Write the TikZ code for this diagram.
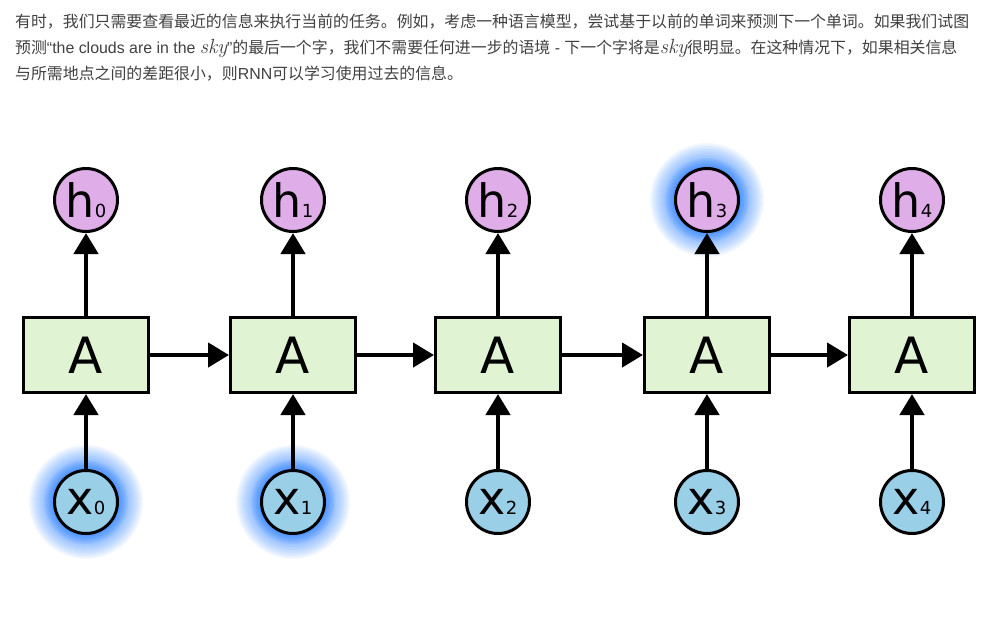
\documentclass[tikz,border=0pt]{standalone}
\usepackage{fontspec}
\setmainfont{Liberation Sans}
\newfontfamily\cjk{Noto Sans CJK SC}
\newfontfamily\lat{Liberation Sans}
\newfontfamily\lmi{Latin Modern Roman}
\newfontfamily\lbl{DejaVu Sans}
\usetikzlibrary{arrows.meta}
\definecolor{hfill}{HTML}{DFADE8}
\definecolor{xfill}{HTML}{9ACFE8}
\definecolor{afill}{HTML}{E0F4D4}
\definecolor{glow}{HTML}{1A75FF}
\definecolor{txt}{HTML}{404040}
\tikzset{
  cell/.style={draw=black, line width=3pt, fill=afill, minimum width=125pt, minimum height=75pt, inner sep=0pt, font=\lbl\fontsize{50}{50}\selectfont},
  hnode/.style={circle, draw=black, line width=3pt, fill=hfill, minimum size=63pt, inner sep=0pt},
  xnode/.style={circle, draw=black, line width=3pt, fill=xfill, minimum size=63pt, inner sep=0pt},
  conn/.style={line width=4.5pt, -{Triangle[length=21pt,width=24pt]}},
  para/.style={anchor=base west, inner sep=0pt, text=txt, font=\cjk\fontsize{15.9}{18}\selectfont},
}
\newcommand{\sky}{{\lmi\itshape\fontsize{20.5}{20}\selectfont sky}}
\newcommand{\hlab}[1]{{\lbl\fontsize{46}{46}\selectfont h}{\lbl\fontsize{18}{18}\selectfont #1}}
\newcommand{\xlab}[1]{{\lbl\fontsize{46}{46}\selectfont x}{\lbl\fontsize{18}{18}\selectfont #1}}
\newcommand{\glowat}[1]{%
  \foreach \r in {33,34.5,...,57} {\fill[glow, opacity=0.05] (#1) circle (\r pt);}%
  \foreach \r in {33,34.5,...,43} {\fill[glow, opacity=0.08] (#1) circle (\r pt);}}
\begin{document}
\begin{tikzpicture}[x=1pt,y=-1pt]
\useasboundingbox (0,0) rectangle (996,619);
% paragraph
\node[para] (l1) at (15,27) {有时，我们只需要查看最近的信息来执行当前的任务。例如，考虑一种语言模型，尝试基于以前的单词来预测下一个单词。如果我们试图};
\node[para] (l2) at (15,53) {预测{\lat“the clouds are in the }\sky{\lat”}的最后一个字，我们不需要任何进一步的语境{\lat\ - }下一个字将是\sky 很明显。在这种情况下，如果相关信息};
\node[para] (l3) at (15,79) {与所需地点之间的差距很小，则{\lat RNN}可以学习使用过去的信息。};
% glows
\coordinate (g0) at (86,502);
\coordinate (g1) at (293,502);
\coordinate (g3) at (707,200);
\glowat{g0}
\glowat{g1}
\glowat{g3}
% nodes
\foreach \i/\cx in {0/86,1/293,2/498,3/707,4/912} {
  \node[cell] (A\i) at (\cx,355) {A};
  \node[hnode] (h\i) at (\cx,200) {\hlab{\i}};
  \node[xnode] (x\i) at (\cx,502) {\xlab{\i}};
  \draw[conn] (x\i) -- (A\i);
  \draw[conn] (A\i) -- (h\i);
}
\foreach \i/\j in {0/1,1/2,2/3,3/4} {
  \draw[conn] (A\i) -- (A\j);
}
\end{tikzpicture}
\end{document}
